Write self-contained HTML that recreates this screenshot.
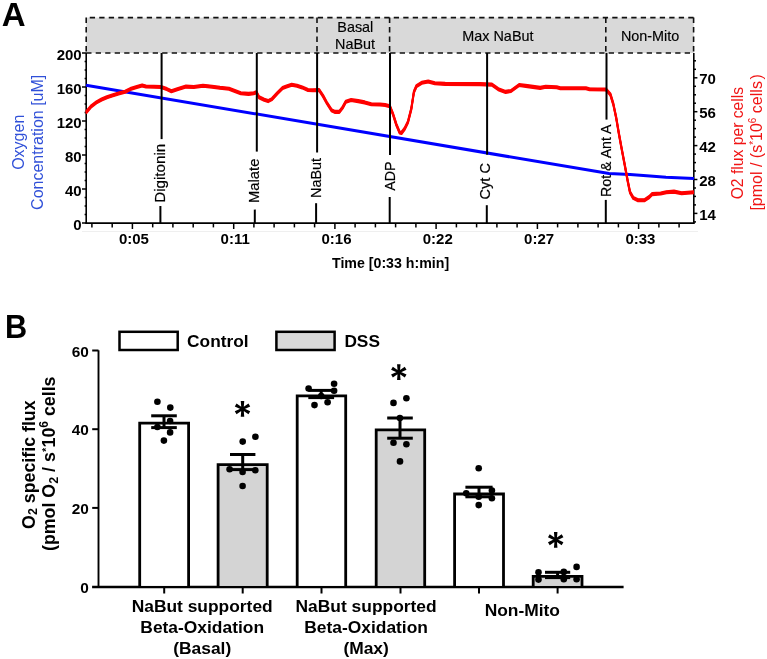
<!DOCTYPE html>
<html><head><meta charset="utf-8"><style>
html,body{margin:0;padding:0;background:#fff;}
svg{display:block;will-change:transform;font-family:"Liberation Sans",sans-serif;}
</style></head><body>
<svg width="767" height="659" viewBox="0 0 767 659">
<text x="1.8" y="25.8" font-size="33" font-weight="bold">A</text>
<rect x="86.2" y="17.6" width="607.6" height="35.4" fill="#d9d9d9"/>
<line x1="86.2" y1="17.6" x2="694" y2="17.6" stroke="#111" stroke-width="1.6" stroke-dasharray="5.3 4.2" stroke-dashoffset="5.95"/>
<line x1="86.2" y1="53" x2="694" y2="53" stroke="#111" stroke-width="1.6" stroke-dasharray="5.3 4.2"/>
<line x1="86.2" y1="17.6" x2="86.2" y2="53" stroke="#111" stroke-width="1.6" stroke-dasharray="5.3 4.2"/>
<line x1="317" y1="17.6" x2="317" y2="53" stroke="#111" stroke-width="1.6" stroke-dasharray="5.3 4.2"/>
<line x1="389.6" y1="17.6" x2="389.6" y2="53" stroke="#111" stroke-width="1.6" stroke-dasharray="5.3 4.2"/>
<line x1="605.8" y1="17.6" x2="605.8" y2="53" stroke="#111" stroke-width="1.6" stroke-dasharray="5.3 4.2"/>
<line x1="693.6" y1="17.6" x2="693.6" y2="53" stroke="#111" stroke-width="1.6" stroke-dasharray="5.3 4.2"/>
<text x="355.3" y="31.9" font-size="14.4" text-anchor="middle" fill="#000" stroke="#000" stroke-width="0.15">Basal</text>
<text x="355.1" y="49.1" font-size="14.4" text-anchor="middle" fill="#000" stroke="#000" stroke-width="0.15">NaBut</text>
<text x="497.9" y="41.3" font-size="14.4" text-anchor="middle" fill="#000" stroke="#000" stroke-width="0.15">Max NaBut</text>
<text x="650.1" y="41.2" font-size="14.4" text-anchor="middle" fill="#000" stroke="#000" stroke-width="0.15">Non-Mito</text>
<line x1="86.2" y1="53" x2="86.2" y2="223.8" stroke="#000" stroke-width="1.6"/>
<line x1="693.8" y1="53" x2="693.8" y2="223.8" stroke="#000" stroke-width="1.6"/>
<line x1="85.4" y1="223.1" x2="694.6" y2="223.1" stroke="#000" stroke-width="1.6"/>
<line x1="82.0" y1="53.0" x2="86.2" y2="53.0" stroke="#000" stroke-width="1.5"/>
<line x1="84.6" y1="61.5" x2="86.2" y2="61.5" stroke="#000" stroke-width="1.5"/>
<line x1="84.6" y1="70.0" x2="86.2" y2="70.0" stroke="#000" stroke-width="1.5"/>
<line x1="84.6" y1="78.5" x2="86.2" y2="78.5" stroke="#000" stroke-width="1.5"/>
<line x1="82.0" y1="87.0" x2="86.2" y2="87.0" stroke="#000" stroke-width="1.5"/>
<line x1="84.6" y1="95.5" x2="86.2" y2="95.5" stroke="#000" stroke-width="1.5"/>
<line x1="84.6" y1="104.0" x2="86.2" y2="104.0" stroke="#000" stroke-width="1.5"/>
<line x1="84.6" y1="112.5" x2="86.2" y2="112.5" stroke="#000" stroke-width="1.5"/>
<line x1="82.0" y1="121.0" x2="86.2" y2="121.0" stroke="#000" stroke-width="1.5"/>
<line x1="84.6" y1="129.5" x2="86.2" y2="129.5" stroke="#000" stroke-width="1.5"/>
<line x1="84.6" y1="138.0" x2="86.2" y2="138.0" stroke="#000" stroke-width="1.5"/>
<line x1="84.6" y1="146.5" x2="86.2" y2="146.5" stroke="#000" stroke-width="1.5"/>
<line x1="82.0" y1="155.0" x2="86.2" y2="155.0" stroke="#000" stroke-width="1.5"/>
<line x1="84.6" y1="163.5" x2="86.2" y2="163.5" stroke="#000" stroke-width="1.5"/>
<line x1="84.6" y1="172.0" x2="86.2" y2="172.0" stroke="#000" stroke-width="1.5"/>
<line x1="84.6" y1="180.5" x2="86.2" y2="180.5" stroke="#000" stroke-width="1.5"/>
<line x1="82.0" y1="189.0" x2="86.2" y2="189.0" stroke="#000" stroke-width="1.5"/>
<line x1="84.6" y1="197.5" x2="86.2" y2="197.5" stroke="#000" stroke-width="1.5"/>
<line x1="84.6" y1="206.0" x2="86.2" y2="206.0" stroke="#000" stroke-width="1.5"/>
<line x1="84.6" y1="214.5" x2="86.2" y2="214.5" stroke="#000" stroke-width="1.5"/>
<line x1="82.0" y1="223.0" x2="86.2" y2="223.0" stroke="#000" stroke-width="1.5"/>
<text x="81.7" y="60.0" font-size="15" font-weight="bold" text-anchor="end">200</text>
<text x="81.7" y="94.0" font-size="15" font-weight="bold" text-anchor="end">160</text>
<text x="81.7" y="128.0" font-size="15" font-weight="bold" text-anchor="end">120</text>
<text x="81.7" y="162.0" font-size="15" font-weight="bold" text-anchor="end">80</text>
<text x="81.7" y="196.0" font-size="15" font-weight="bold" text-anchor="end">40</text>
<text x="81.7" y="230.0" font-size="15" font-weight="bold" text-anchor="end">0</text>
<line x1="693.8" y1="60.8" x2="696.0" y2="60.8" stroke="#000" stroke-width="1.5"/>
<line x1="693.8" y1="69.3" x2="696.0" y2="69.3" stroke="#000" stroke-width="1.5"/>
<line x1="693.8" y1="77.8" x2="697.4" y2="77.8" stroke="#000" stroke-width="1.5"/>
<line x1="693.8" y1="86.3" x2="696.0" y2="86.3" stroke="#000" stroke-width="1.5"/>
<line x1="693.8" y1="94.8" x2="696.0" y2="94.8" stroke="#000" stroke-width="1.5"/>
<line x1="693.8" y1="103.2" x2="696.0" y2="103.2" stroke="#000" stroke-width="1.5"/>
<line x1="693.8" y1="111.7" x2="697.4" y2="111.7" stroke="#000" stroke-width="1.5"/>
<line x1="693.8" y1="120.2" x2="696.0" y2="120.2" stroke="#000" stroke-width="1.5"/>
<line x1="693.8" y1="128.6" x2="696.0" y2="128.6" stroke="#000" stroke-width="1.5"/>
<line x1="693.8" y1="137.1" x2="696.0" y2="137.1" stroke="#000" stroke-width="1.5"/>
<line x1="693.8" y1="145.6" x2="697.4" y2="145.6" stroke="#000" stroke-width="1.5"/>
<line x1="693.8" y1="154.1" x2="696.0" y2="154.1" stroke="#000" stroke-width="1.5"/>
<line x1="693.8" y1="162.6" x2="696.0" y2="162.6" stroke="#000" stroke-width="1.5"/>
<line x1="693.8" y1="171.0" x2="696.0" y2="171.0" stroke="#000" stroke-width="1.5"/>
<line x1="693.8" y1="179.5" x2="697.4" y2="179.5" stroke="#000" stroke-width="1.5"/>
<line x1="693.8" y1="188.0" x2="696.0" y2="188.0" stroke="#000" stroke-width="1.5"/>
<line x1="693.8" y1="196.4" x2="696.0" y2="196.4" stroke="#000" stroke-width="1.5"/>
<line x1="693.8" y1="204.9" x2="696.0" y2="204.9" stroke="#000" stroke-width="1.5"/>
<line x1="693.8" y1="213.4" x2="697.4" y2="213.4" stroke="#000" stroke-width="1.5"/>
<line x1="693.8" y1="221.9" x2="696.0" y2="221.9" stroke="#000" stroke-width="1.5"/>
<text x="699.2" y="84.0" font-size="15" font-weight="bold" text-anchor="start">70</text>
<text x="699.2" y="117.9" font-size="15" font-weight="bold" text-anchor="start">56</text>
<text x="699.2" y="151.8" font-size="15" font-weight="bold" text-anchor="start">42</text>
<text x="699.2" y="185.7" font-size="15" font-weight="bold" text-anchor="start">28</text>
<text x="699.2" y="219.6" font-size="15" font-weight="bold" text-anchor="start">14</text>
<line x1="91.9" y1="223.1" x2="91.9" y2="227.4" stroke="#000" stroke-width="1.5"/>
<line x1="112.2" y1="223.1" x2="112.2" y2="227.4" stroke="#000" stroke-width="1.5"/>
<line x1="132.4" y1="223.1" x2="132.4" y2="229" stroke="#000" stroke-width="1.5"/>
<line x1="152.7" y1="223.1" x2="152.7" y2="227.4" stroke="#000" stroke-width="1.5"/>
<line x1="172.9" y1="223.1" x2="172.9" y2="227.4" stroke="#000" stroke-width="1.5"/>
<line x1="193.2" y1="223.1" x2="193.2" y2="227.4" stroke="#000" stroke-width="1.5"/>
<line x1="213.4" y1="223.1" x2="213.4" y2="227.4" stroke="#000" stroke-width="1.5"/>
<line x1="233.7" y1="223.1" x2="233.7" y2="229" stroke="#000" stroke-width="1.5"/>
<line x1="253.9" y1="223.1" x2="253.9" y2="227.4" stroke="#000" stroke-width="1.5"/>
<line x1="274.1" y1="223.1" x2="274.1" y2="227.4" stroke="#000" stroke-width="1.5"/>
<line x1="294.4" y1="223.1" x2="294.4" y2="227.4" stroke="#000" stroke-width="1.5"/>
<line x1="314.6" y1="223.1" x2="314.6" y2="227.4" stroke="#000" stroke-width="1.5"/>
<line x1="334.9" y1="223.1" x2="334.9" y2="229" stroke="#000" stroke-width="1.5"/>
<line x1="355.1" y1="223.1" x2="355.1" y2="227.4" stroke="#000" stroke-width="1.5"/>
<line x1="375.4" y1="223.1" x2="375.4" y2="227.4" stroke="#000" stroke-width="1.5"/>
<line x1="395.6" y1="223.1" x2="395.6" y2="227.4" stroke="#000" stroke-width="1.5"/>
<line x1="415.9" y1="223.1" x2="415.9" y2="227.4" stroke="#000" stroke-width="1.5"/>
<line x1="436.1" y1="223.1" x2="436.1" y2="229" stroke="#000" stroke-width="1.5"/>
<line x1="456.4" y1="223.1" x2="456.4" y2="227.4" stroke="#000" stroke-width="1.5"/>
<line x1="476.6" y1="223.1" x2="476.6" y2="227.4" stroke="#000" stroke-width="1.5"/>
<line x1="496.9" y1="223.1" x2="496.9" y2="227.4" stroke="#000" stroke-width="1.5"/>
<line x1="517.1" y1="223.1" x2="517.1" y2="227.4" stroke="#000" stroke-width="1.5"/>
<line x1="537.4" y1="223.1" x2="537.4" y2="229" stroke="#000" stroke-width="1.5"/>
<line x1="557.6" y1="223.1" x2="557.6" y2="227.4" stroke="#000" stroke-width="1.5"/>
<line x1="577.9" y1="223.1" x2="577.9" y2="227.4" stroke="#000" stroke-width="1.5"/>
<line x1="598.1" y1="223.1" x2="598.1" y2="227.4" stroke="#000" stroke-width="1.5"/>
<line x1="618.4" y1="223.1" x2="618.4" y2="227.4" stroke="#000" stroke-width="1.5"/>
<line x1="638.6" y1="223.1" x2="638.6" y2="229" stroke="#000" stroke-width="1.5"/>
<line x1="658.9" y1="223.1" x2="658.9" y2="227.4" stroke="#000" stroke-width="1.5"/>
<line x1="679.1" y1="223.1" x2="679.1" y2="227.4" stroke="#000" stroke-width="1.5"/>
<text x="133.9" y="243.9" font-size="15" font-weight="bold" text-anchor="middle">0:05</text>
<text x="235.2" y="243.9" font-size="15" font-weight="bold" text-anchor="middle">0:11</text>
<text x="336.5" y="243.9" font-size="15" font-weight="bold" text-anchor="middle">0:16</text>
<text x="437.8" y="243.9" font-size="15" font-weight="bold" text-anchor="middle">0:22</text>
<text x="539.1" y="243.9" font-size="15" font-weight="bold" text-anchor="middle">0:27</text>
<text x="640.4" y="243.9" font-size="15" font-weight="bold" text-anchor="middle">0:33</text>
<line x1="82" y1="231.5" x2="698" y2="231.5" stroke="#efefef" stroke-width="1"/>
<text x="390.6" y="267.8" font-size="14.2" font-weight="bold" text-anchor="middle">Time [0:33 h:min]</text>
<text transform="translate(23.8,142.3) rotate(-90)" font-size="16" fill="#3050d8" text-anchor="middle">Oxygen</text>
<text transform="translate(43.3,142.3) rotate(-90)" font-size="16" fill="#3050d8" text-anchor="middle">Concentration [uM]</text>
<text transform="translate(743,143.1) rotate(-90)" font-size="15.7" fill="#f01414" text-anchor="middle">O2 flux per cells</text>
<text transform="translate(762.4,142.4) rotate(-90)" font-size="16" fill="#f01414" text-anchor="middle">[pmol / (s<tspan dy="-5" font-size="10">*</tspan><tspan dy="5">10</tspan><tspan dy="-6" font-size="10">6</tspan><tspan dy="6"> cells</tspan><tspan dx="1.6">)</tspan></text>
<polyline points="86.0,85.2 609.0,173.6 630.0,174.6 650.0,176.1 666.0,177.3 694.0,178.5" fill="none" stroke="#0000ff" stroke-width="3" stroke-linejoin="round"/>
<polyline points="86.0,111.4 91.2,105.2 96.4,101.3 101.6,98.4 106.9,96.1 112.1,94.5 118.6,92.4 125.1,90.6 130.3,88.0 136.8,85.9 142.1,84.3 146.0,85.4 153.8,85.6 161.0,85.9 166.8,88.0 171.4,90.2 177.3,88.2 186.0,85.5 193.8,85.9 203.0,84.6 212.1,85.6 219.9,86.7 229.0,87.6 235.5,90.2 240.8,92.2 248.6,92.8 253.8,92.2 256.4,91.2 259.0,96.1 264.2,98.7 268.1,100.0 272.0,98.0 277.3,92.2 282.6,86.9 286.5,85.4 291.7,83.7 297.0,84.6 302.2,86.3 308.0,88.9 312.6,89.2 319.1,88.9 323.0,94.8 326.9,101.9 331.5,109.1 334.8,110.8 339.3,110.8 342.6,106.5 345.8,100.6 351.1,98.9 358.2,100.0 364.7,101.3 371.3,103.2 380.0,103.4 385.2,103.9 389.8,105.2 393.0,113.0 396.3,123.4 399.6,131.3 401.5,131.9 404.8,127.4 408.0,120.8 411.3,107.8 413.9,90.9 416.5,85.0 421.7,81.7 428.2,80.4 434.8,82.2 445.2,82.8 480.0,83.0 491.9,83.5 498.3,88.1 505.6,90.8 511.0,89.9 519.2,83.9 527.5,85.0 540.2,86.8 545.7,85.7 556.7,86.2 560.3,87.2 585.9,87.2 589.5,88.1 606.0,88.4 610.4,93.4 613.3,102.9 616.1,116.2 619.0,133.2 621.8,148.4 624.7,163.6 627.5,178.8 630.0,191.1 633.2,196.8 638.0,199.1 644.6,199.1 649.3,195.9 652.2,193.0 660.7,192.4 666.4,191.1 674.0,190.5 681.6,192.1 693.9,191.1" fill="none" stroke="#ff0000" stroke-width="1.9" stroke-linejoin="round"/>
<polyline points="86.0,112.1 91.2,105.9 96.4,102.0 101.6,99.1 106.9,96.8 112.1,95.2 118.6,93.1 125.1,91.3 130.3,88.7 136.8,86.6 142.1,85.0 146.0,86.1 153.8,86.3 161.0,86.6 166.8,88.7 171.4,90.9 177.3,88.9 186.0,86.2 193.8,86.6 203.0,85.3 212.1,86.3 219.9,87.4 229.0,88.3 235.5,90.9 240.8,92.9 248.6,93.5 253.8,92.9 256.4,91.9 259.0,96.8 264.2,99.4 268.1,100.7 272.0,98.7 277.3,92.9 282.6,87.6 286.5,86.1 291.7,84.4 297.0,85.3 302.2,87.0 308.0,89.6 312.6,89.9 319.1,89.6 323.0,95.5 326.9,102.6 331.5,109.8 334.8,111.5 339.3,111.5 342.6,107.2 345.8,101.3 351.1,99.6 358.2,100.7 364.7,102.0 371.3,103.9 380.0,104.1 385.2,104.6 389.8,105.9 393.0,113.7 396.3,124.1 399.6,132.0 401.5,132.6 404.8,128.1 408.0,121.5 411.3,108.5 413.9,91.6 416.5,85.7 421.7,82.4 428.2,81.1 434.8,82.9 445.2,83.5 480.0,83.7 491.9,84.2 498.3,88.8 505.6,91.5 511.0,90.6 519.2,84.6 527.5,85.7 540.2,87.5 545.7,86.4 556.7,86.9 560.3,87.9 585.9,87.9 589.5,88.8 606.0,89.1 610.4,94.1 613.3,103.6 616.1,116.9 619.0,133.9 621.8,149.1 624.7,164.3 627.5,179.5 630.0,191.8 633.2,197.5 638.0,199.8 644.6,199.8 649.3,196.6 652.2,193.7 660.7,193.1 666.4,191.8 674.0,191.2 681.6,192.8 693.9,191.8" fill="none" stroke="#ff0000" stroke-width="1.9" stroke-linejoin="round"/>
<polyline points="86.0,112.9 91.2,106.7 96.4,102.8 101.6,99.9 106.9,97.6 112.1,96.0 118.6,93.9 125.1,92.1 130.3,89.5 136.8,87.4 142.1,85.8 146.0,86.9 153.8,87.1 161.0,87.4 166.8,89.5 171.4,91.7 177.3,89.7 186.0,87.0 193.8,87.4 203.0,86.1 212.1,87.1 219.9,88.2 229.0,89.1 235.5,91.7 240.8,93.7 248.6,94.3 253.8,93.7 256.4,92.7 259.0,97.6 264.2,100.2 268.1,101.5 272.0,99.5 277.3,93.7 282.6,88.4 286.5,86.9 291.7,85.2 297.0,86.1 302.2,87.8 308.0,90.4 312.6,90.7 319.1,90.4 323.0,96.3 326.9,103.4 331.5,110.6 334.8,112.3 339.3,112.3 342.6,108.0 345.8,102.1 351.1,100.4 358.2,101.5 364.7,102.8 371.3,104.7 380.0,104.9 385.2,105.4 389.8,106.7 393.0,114.5 396.3,124.9 399.6,132.8 401.5,133.4 404.8,128.9 408.0,122.3 411.3,109.3 413.9,92.4 416.5,86.5 421.7,83.2 428.2,81.9 434.8,83.7 445.2,84.3 480.0,84.5 491.9,85.0 498.3,89.6 505.6,92.3 511.0,91.4 519.2,85.4 527.5,86.5 540.2,88.3 545.7,87.2 556.7,87.7 560.3,88.7 585.9,88.7 589.5,89.6 606.0,89.9 610.4,94.9 613.3,104.4 616.1,117.7 619.0,134.7 621.8,149.9 624.7,165.1 627.5,180.3 630.0,192.6 633.2,198.3 638.0,200.6 644.6,200.6 649.3,197.4 652.2,194.5 660.7,193.9 666.4,192.6 674.0,192.0 681.6,193.6 693.9,192.6" fill="none" stroke="#ff0000" stroke-width="1.9" stroke-linejoin="round"/>
<polyline points="86.0,113.6 91.2,107.4 96.4,103.5 101.6,100.6 106.9,98.3 112.1,96.7 118.6,94.6 125.1,92.8 130.3,90.2 136.8,88.1 142.1,86.5 146.0,87.6 153.8,87.8 161.0,88.1 166.8,90.2 171.4,92.4 177.3,90.4 186.0,87.7 193.8,88.1 203.0,86.8 212.1,87.8 219.9,88.9 229.0,89.8 235.5,92.4 240.8,94.4 248.6,95.0 253.8,94.4 256.4,93.4 259.0,98.3 264.2,100.9 268.1,102.2 272.0,100.2 277.3,94.4 282.6,89.1 286.5,87.6 291.7,85.9 297.0,86.8 302.2,88.5 308.0,91.1 312.6,91.4 319.1,91.1 323.0,97.0 326.9,104.1 331.5,111.3 334.8,113.0 339.3,113.0 342.6,108.7 345.8,102.8 351.1,101.1 358.2,102.2 364.7,103.5 371.3,105.4 380.0,105.6 385.2,106.1 389.8,107.4 393.0,115.2 396.3,125.6 399.6,133.5 401.5,134.1 404.8,129.6 408.0,123.0 411.3,110.0 413.9,93.1 416.5,87.2 421.7,83.9 428.2,82.6 434.8,84.4 445.2,85.0 480.0,85.2 491.9,85.7 498.3,90.3 505.6,93.0 511.0,92.1 519.2,86.1 527.5,87.2 540.2,89.0 545.7,87.9 556.7,88.4 560.3,89.4 585.9,89.4 589.5,90.3 606.0,90.6 610.4,95.6 613.3,105.1 616.1,118.4 619.0,135.4 621.8,150.6 624.7,165.8 627.5,181.0 630.0,193.3 633.2,199.0 638.0,201.3 644.6,201.3 649.3,198.1 652.2,195.2 660.7,194.6 666.4,193.3 674.0,192.7 681.6,194.3 693.9,193.3" fill="none" stroke="#ff0000" stroke-width="1.9" stroke-linejoin="round"/>
<line x1="161.6" y1="53" x2="161.6" y2="139.1" stroke="#000" stroke-width="2"/>
<line x1="160.4" y1="206" x2="160.4" y2="223" stroke="#000" stroke-width="2"/>
<text transform="translate(165,202.8) rotate(-90)" font-size="15.2" fill="#000" stroke="#000" stroke-width="0.2">Digitonin</text>
<line x1="256.8" y1="53" x2="256.8" y2="151.6" stroke="#000" stroke-width="2"/>
<line x1="254.8" y1="209.6" x2="254.8" y2="223" stroke="#000" stroke-width="2"/>
<text transform="translate(258.6,203.0) rotate(-90)" font-size="14.8" fill="#000" stroke="#000" stroke-width="0.2">Malate</text>
<line x1="317.1" y1="53" x2="317.1" y2="152.5" stroke="#000" stroke-width="2"/>
<line x1="316.1" y1="203.2" x2="316.1" y2="223" stroke="#000" stroke-width="2"/>
<text transform="translate(321,198.0) rotate(-90)" font-size="14.4" fill="#000" stroke="#000" stroke-width="0.2">NaBut</text>
<line x1="390" y1="53" x2="390" y2="155" stroke="#000" stroke-width="2"/>
<line x1="389.7" y1="197" x2="389.7" y2="223" stroke="#000" stroke-width="2"/>
<text transform="translate(394.9,190.8) rotate(-90)" font-size="14.2" fill="#000" stroke="#000" stroke-width="0.2">ADP</text>
<line x1="487.1" y1="53" x2="487.1" y2="154.7" stroke="#000" stroke-width="2"/>
<line x1="486.8" y1="205.2" x2="486.8" y2="223" stroke="#000" stroke-width="2"/>
<text transform="translate(489.8,199.5) rotate(-90)" font-size="14.6" fill="#000" stroke="#000" stroke-width="0.2">Cyt C</text>
<line x1="606.5" y1="53" x2="606.5" y2="119.6" stroke="#000" stroke-width="2"/>
<line x1="605.8" y1="199.9" x2="605.8" y2="223" stroke="#000" stroke-width="2"/>
<text transform="translate(611.1,197.0) rotate(-90)" font-size="14.2" fill="#000" stroke="#000" stroke-width="0.2">Rot &amp; Ant A</text>
<text transform="translate(5.0,337.6) scale(0.93,1)" font-size="33" font-weight="bold">B</text>
<rect x="119.5" y="331.8" width="58.2" height="18.2" fill="#fff" stroke="#000" stroke-width="2.5"/>
<text x="187.1" y="347.1" font-size="17.3" font-weight="bold">Control</text>
<rect x="276.4" y="331.8" width="58.2" height="18.2" fill="#d9d9d9" stroke="#000" stroke-width="2.5"/>
<text x="344.4" y="347.1" font-size="17.3" font-weight="bold">DSS</text>
<line x1="98.5" y1="350.3" x2="98.5" y2="587.2" stroke="#000" stroke-width="1.9"/>
<line x1="92.1" y1="587" x2="623.6" y2="587" stroke="#000" stroke-width="2.4"/>
<line x1="92.2" y1="350.5" x2="98.5" y2="350.5" stroke="#000" stroke-width="2"/>
<text x="88.9" y="356.5" font-size="15.4" font-weight="bold" text-anchor="end">60</text>
<line x1="92.2" y1="429.2" x2="98.5" y2="429.2" stroke="#000" stroke-width="2"/>
<text x="88.9" y="435.2" font-size="15.4" font-weight="bold" text-anchor="end">40</text>
<line x1="92.2" y1="507.9" x2="98.5" y2="507.9" stroke="#000" stroke-width="2"/>
<text x="88.9" y="513.9" font-size="15.4" font-weight="bold" text-anchor="end">20</text>
<text x="88.9" y="592.6" font-size="15.4" font-weight="bold" text-anchor="end">0</text>
<rect x="139.70" y="423.20" width="48.90" height="162.60" fill="#fff"/>
<path d="M139.70,587 V423.20 H188.60 V587" fill="none" stroke="#000" stroke-width="2.8" stroke-linejoin="miter"/>
<rect x="218.10" y="464.60" width="49.10" height="121.20" fill="#d4d4d4"/>
<path d="M218.10,587 V464.60 H267.20 V587" fill="none" stroke="#000" stroke-width="2.8" stroke-linejoin="miter"/>
<rect x="297.20" y="395.80" width="48.50" height="190.00" fill="#fff"/>
<path d="M297.20,587 V395.80 H345.70 V587" fill="none" stroke="#000" stroke-width="2.8" stroke-linejoin="miter"/>
<rect x="376.20" y="429.90" width="48.50" height="155.90" fill="#d4d4d4"/>
<path d="M376.20,587 V429.90 H424.70 V587" fill="none" stroke="#000" stroke-width="2.8" stroke-linejoin="miter"/>
<rect x="454.60" y="494.00" width="48.90" height="91.80" fill="#fff"/>
<path d="M454.60,587 V494.00 H503.50 V587" fill="none" stroke="#000" stroke-width="2.8" stroke-linejoin="miter"/>
<rect x="533.20" y="576.30" width="48.80" height="9.50" fill="#d4d4d4"/>
<path d="M533.20,587 V576.30 H582.00 V587" fill="none" stroke="#000" stroke-width="2.8" stroke-linejoin="miter"/>
<line x1="164.2" y1="586.6" x2="164.2" y2="593.5" stroke="#000" stroke-width="2"/>
<line x1="242.7" y1="586.6" x2="242.7" y2="593.5" stroke="#000" stroke-width="2"/>
<line x1="321.5" y1="586.6" x2="321.5" y2="593.5" stroke="#000" stroke-width="2"/>
<line x1="400.5" y1="586.6" x2="400.5" y2="593.5" stroke="#000" stroke-width="2"/>
<line x1="479.0" y1="586.6" x2="479.0" y2="593.5" stroke="#000" stroke-width="2"/>
<line x1="557.6" y1="586.6" x2="557.6" y2="593.5" stroke="#000" stroke-width="2"/>
<line x1="151.2" y1="415.8" x2="176.8" y2="415.8" stroke="#000" stroke-width="3"/>
<line x1="151.2" y1="427.6" x2="176.8" y2="427.6" stroke="#000" stroke-width="3"/>
<line x1="164" y1="415.8" x2="164" y2="427.6" stroke="#000" stroke-width="3"/>
<line x1="230.0" y1="454.5" x2="255.4" y2="454.5" stroke="#000" stroke-width="3"/>
<line x1="230.0" y1="469.6" x2="255.4" y2="469.6" stroke="#000" stroke-width="3"/>
<line x1="242.7" y1="454.5" x2="242.7" y2="469.6" stroke="#000" stroke-width="3"/>
<line x1="308.3" y1="390.4" x2="334.1" y2="390.4" stroke="#000" stroke-width="3"/>
<line x1="308.3" y1="397.6" x2="334.1" y2="397.6" stroke="#000" stroke-width="3"/>
<line x1="321.2" y1="390.4" x2="321.2" y2="397.6" stroke="#000" stroke-width="3"/>
<line x1="387.2" y1="418" x2="412.8" y2="418" stroke="#000" stroke-width="3"/>
<line x1="387.2" y1="438.2" x2="412.8" y2="438.2" stroke="#000" stroke-width="3"/>
<line x1="400" y1="418" x2="400" y2="438.2" stroke="#000" stroke-width="3"/>
<line x1="465.4" y1="487.2" x2="492.6" y2="487.2" stroke="#000" stroke-width="3"/>
<line x1="465.4" y1="496.8" x2="492.6" y2="496.8" stroke="#000" stroke-width="3"/>
<line x1="479" y1="487.2" x2="479" y2="496.8" stroke="#000" stroke-width="3"/>
<line x1="545.0" y1="572.3" x2="570.2" y2="572.3" stroke="#000" stroke-width="3"/>
<line x1="545.0" y1="577.6" x2="570.2" y2="577.6" stroke="#000" stroke-width="3"/>
<line x1="557.6" y1="572.3" x2="557.6" y2="577.6" stroke="#000" stroke-width="3"/>
<circle cx="157.4" cy="401.7" r="3.3" fill="#000"/>
<circle cx="170.3" cy="407.6" r="3.3" fill="#000"/>
<circle cx="170.1" cy="421" r="3.3" fill="#000"/>
<circle cx="157.4" cy="427" r="3.3" fill="#000"/>
<circle cx="170.1" cy="432.4" r="3.3" fill="#000"/>
<circle cx="163.9" cy="440.6" r="3.3" fill="#000"/>
<circle cx="242.7" cy="441.6" r="3.3" fill="#000"/>
<circle cx="255.4" cy="436.7" r="3.3" fill="#000"/>
<circle cx="229.6" cy="469.3" r="3.3" fill="#000"/>
<circle cx="242.6" cy="471.9" r="3.3" fill="#000"/>
<circle cx="255.3" cy="470.3" r="3.3" fill="#000"/>
<circle cx="242.6" cy="486" r="3.3" fill="#000"/>
<circle cx="308.6" cy="388.5" r="3.3" fill="#000"/>
<circle cx="334.1" cy="383.8" r="3.3" fill="#000"/>
<circle cx="334.1" cy="390.8" r="3.3" fill="#000"/>
<circle cx="327.6" cy="402.3" r="3.3" fill="#000"/>
<circle cx="314.5" cy="405.1" r="3.3" fill="#000"/>
<circle cx="321.2" cy="396" r="3.3" fill="#000"/>
<circle cx="393.5" cy="402.9" r="3.3" fill="#000"/>
<circle cx="406.4" cy="398.3" r="3.3" fill="#000"/>
<circle cx="399.9" cy="418" r="3.3" fill="#000"/>
<circle cx="393.5" cy="442.7" r="3.3" fill="#000"/>
<circle cx="406.4" cy="444.3" r="3.3" fill="#000"/>
<circle cx="400" cy="461.4" r="3.3" fill="#000"/>
<circle cx="478.7" cy="468.2" r="3.3" fill="#000"/>
<circle cx="466.2" cy="493.3" r="3.3" fill="#000"/>
<circle cx="491.9" cy="490.5" r="3.3" fill="#000"/>
<circle cx="491.9" cy="498.3" r="3.3" fill="#000"/>
<circle cx="478.7" cy="496.7" r="3.3" fill="#000"/>
<circle cx="478.7" cy="505.1" r="3.3" fill="#000"/>
<circle cx="538.5" cy="572.3" r="3.3" fill="#000"/>
<circle cx="538.5" cy="579.6" r="3.3" fill="#000"/>
<circle cx="563.8" cy="571.9" r="3.3" fill="#000"/>
<circle cx="563.8" cy="579.2" r="3.3" fill="#000"/>
<circle cx="576.6" cy="566.9" r="3.3" fill="#000"/>
<circle cx="576.6" cy="579.2" r="3.3" fill="#000"/>
<path d="M243.60,408.90 L244.25,401.00 L240.75,401.00 L241.40,408.90Z M243.05,409.85 L250.22,406.47 L248.47,403.43 L241.95,407.95Z M241.95,409.85 L248.47,414.37 L250.22,411.33 L243.05,407.95Z M241.40,408.90 L240.75,416.80 L244.25,416.80 L243.60,408.90Z M241.95,407.95 L234.78,411.33 L236.53,414.37 L243.05,409.85Z M243.05,407.95 L236.53,403.43 L234.78,406.47 L241.95,409.85Z" fill="#000"/><circle cx="242.5" cy="408.9" r="1.6" fill="#000"/>
<path d="M399.90,372.10 L400.55,364.20 L397.05,364.20 L397.70,372.10Z M399.35,373.05 L406.52,369.67 L404.77,366.63 L398.25,371.15Z M398.25,373.05 L404.77,377.57 L406.52,374.53 L399.35,371.15Z M397.70,372.10 L397.05,380.00 L400.55,380.00 L399.90,372.10Z M398.25,371.15 L391.08,374.53 L392.83,377.57 L399.35,373.05Z M399.35,371.15 L392.83,366.63 L391.08,369.67 L398.25,373.05Z" fill="#000"/><circle cx="398.8" cy="372.1" r="1.6" fill="#000"/>
<path d="M556.80,539.80 L557.45,531.90 L553.95,531.90 L554.60,539.80Z M556.25,540.75 L563.42,537.37 L561.67,534.33 L555.15,538.85Z M555.15,540.75 L561.67,545.27 L563.42,542.23 L556.25,538.85Z M554.60,539.80 L553.95,547.70 L557.45,547.70 L556.80,539.80Z M555.15,538.85 L547.98,542.23 L549.73,545.27 L556.25,540.75Z M556.25,538.85 L549.73,534.33 L547.98,537.37 L555.15,540.75Z" fill="#000"/><circle cx="555.7" cy="539.8" r="1.6" fill="#000"/>
<text x="202.2" y="612.2" font-size="17.4" font-weight="bold" text-anchor="middle">NaBut supported</text>
<text x="202.2" y="632.8" font-size="17.4" font-weight="bold" text-anchor="middle">Beta-Oxidation</text>
<text x="202.2" y="653.6" font-size="17.4" font-weight="bold" text-anchor="middle">(Basal)</text>
<text x="366.1" y="612.2" font-size="17.4" font-weight="bold" text-anchor="middle">NaBut supported</text>
<text x="366.1" y="632.8" font-size="17.4" font-weight="bold" text-anchor="middle">Beta-Oxidation</text>
<text x="366.1" y="653.6" font-size="17.4" font-weight="bold" text-anchor="middle">(Max)</text>
<text x="522.3" y="615.8" font-size="17.4" font-weight="bold" text-anchor="middle">Non-Mito</text>
<text transform="translate(34.6,528.9) rotate(-90)" font-size="17.8" font-weight="bold">O<tspan font-size="12.5" dy="2.5">2</tspan><tspan dy="-2.5"> specific flux</tspan></text>
<text transform="translate(54.5,551) rotate(-90)" font-size="17.8" font-weight="bold">(pmol O<tspan font-size="12.5" dy="3">2</tspan><tspan dy="-3"> / s</tspan><tspan font-size="10" dy="-5" dx="0.5">*</tspan><tspan dy="5" dx="0.3">10</tspan><tspan font-size="12" dy="-7">6</tspan><tspan dy="7"> cells</tspan></text>
</svg>
</body></html>
